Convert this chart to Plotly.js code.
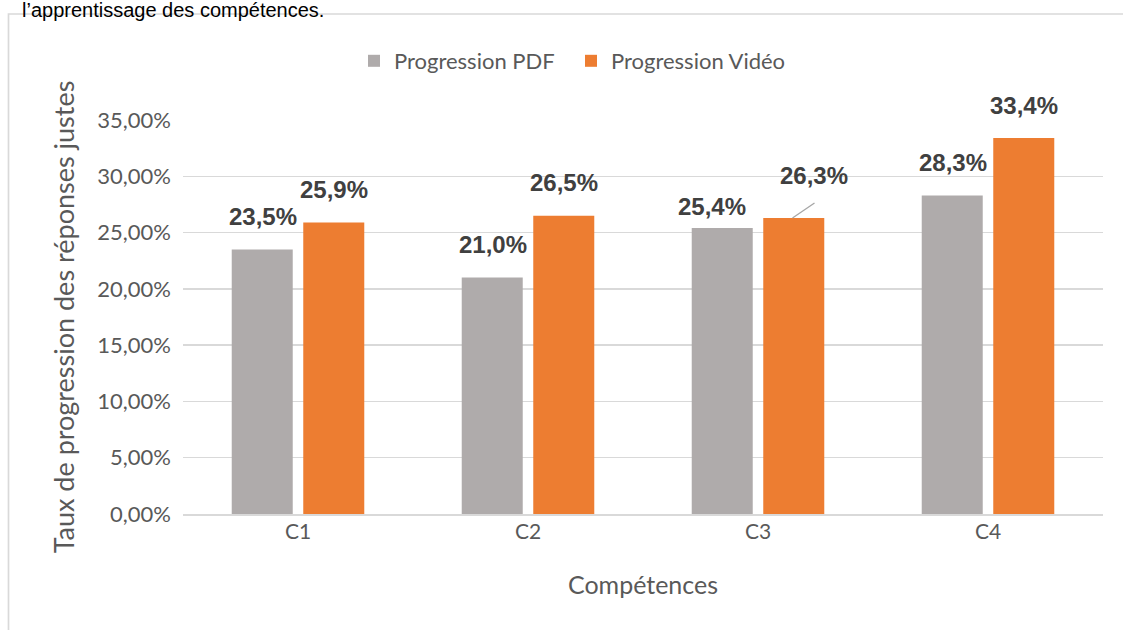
<!DOCTYPE html>
<html>
<head>
<meta charset="utf-8">
<script src="https://cdn.plot.ly/plotly-3.0.1.min.js"></script>
<style>
  html, body { margin: 0; padding: 0; background: #ffffff; }
  #chart { width: 1123px; height: 630px; }
</style>
</head>
<body>
<div id="chart"></div>
<script>
// ---- Data ----
const categories = ['C1', 'C2', 'C3', 'C4'];
const seriesNames = ['Progression PDF', 'Progression Vidéo'];
const pdfValues = [0.235, 0.210, 0.254, 0.283];
const videoValues = [0.259, 0.265, 0.263, 0.334];
const yTickValues = [0, 0.05, 0.10, 0.15, 0.20, 0.25, 0.30, 0.35];
const captionText = 'l’apprentissage des compétences.';
const xTitle = 'Compétences';
const yTitle = 'Taux de progression des réponses justes';

// ---- Styles ----
const GRAY = '#AFABAB';
const ORANGE = '#ED7D31';
const AXIS_TEXT = '#595959';
const LABEL_TEXT = '#404040';
const GRID = '#D9D9D9';

// plot box in pixels (for paper-coordinate conversions)
const L = 183, R = 20, T = 120, B = 116, W = 1123, H = 630;
const PW = W - L - R, PH = H - T - B;
const px = x => (x - L) / PW;
const py = y => (H - B - y) / PH;

function fmt(v) { return (v * 100).toFixed(1).replace('.', ',') + '%'; }

const traces = [
  { type: 'bar', name: seriesNames[0], x: categories, y: pdfValues,
    marker: { color: GRAY }, hoverinfo: 'skip' },
  { type: 'bar', name: seriesNames[1], x: categories, y: videoValues,
    marker: { color: ORANGE }, hoverinfo: 'skip' }
];

// data label placement (pixel nudges relative to each bar's top centre)
const barOffset = 35.5;
const labelNudge = [
  [[0, 0], [0, 0], [-11, 11], [0, 0]],   // PDF
  [[0, 0], [0, 0], [20, -9], [0, 0]]     // Vidéo
];
const labelFont = { family: 'Liberation Sans, Arial, sans-serif', size: 24, color: LABEL_TEXT, weight: 'bold' };
const annotations = [];
const shapes = [];
[pdfValues, videoValues].forEach((vals, s) => {
  vals.forEach((v, i) => {
    const dx = (s === 0 ? -barOffset : barOffset);
    const n = labelNudge[s][i];
    annotations.push({
      x: categories[i], y: v, xref: 'x', yref: 'y',
      xshift: dx + n[0], yshift: 33 - n[1],
      yanchor: 'middle', xanchor: 'center',
      text: fmt(v), showarrow: false, font: labelFont
    });
    if (s === 1 && i === 2) {
      // leader line from bar top to the moved label
      shapes.push({
        type: 'line', xref: 'x', yref: 'y',
        xsizemode: 'pixel', xanchor: i, x0: dx - 1, x1: dx + 21,
        ysizemode: 'pixel', yanchor: v, y0: 0, y1: 15,
        line: { color: '#A6A6A6', width: 1.3 }
      });
    }
  });
});

// chart-area border
shapes.push({
  type: 'rect', xref: 'paper', yref: 'paper', layer: 'below',
  x0: px(8.5), x1: px(1140), y0: py(645), y1: py(14),
  line: { color: GRID, width: 1.7 }, fillcolor: 'rgba(0,0,0,0)'
});

const layout = {
  width: W, height: H,
  margin: { l: L, r: R, t: T, b: B, pad: 0 },
  paper_bgcolor: '#ffffff', plot_bgcolor: '#ffffff',
  separators: ', ',
  barmode: 'group', bargap: 0.378, bargroupgap: 0.147,
  showlegend: true,
  title: {
    text: captionText, xref: 'container', yref: 'container',
    x: 22 / W, xanchor: 'left', y: 1 - 17 / H, yanchor: 'bottom',
    font: { family: 'Liberation Sans, Arial, sans-serif', size: 20, color: '#000000' }
  },
  legend: {
    orientation: 'h', x: px(354), xanchor: 'left', y: py(61), yanchor: 'middle',
    font: { family: 'Lato, sans-serif', size: 22, color: AXIS_TEXT },
    entrywidth: 172, entrywidthmode: 'pixels', traceorder: 'normal'
  },
  xaxis: {
    type: 'category', showline: true, linecolor: GRID, linewidth: 2,
    ticks: '', showgrid: false, zeroline: false,
    tickfont: { family: 'Lato, sans-serif', size: 21, color: AXIS_TEXT },
    ticklabelstandoff: -2,
    title: { text: xTitle, standoff: 34, font: { family: 'Lato, sans-serif', size: 25, color: AXIS_TEXT } },
    automargin: false, fixedrange: true
  },
  yaxis: {
    range: [0, 0.35], tickvals: yTickValues, tickformat: '.2%',
    showgrid: true, gridcolor: GRID, gridwidth: 1.5,
    zeroline: false, showline: false, ticks: '',
    ticklabelstandoff: 11,
    tickfont: { family: 'Lato, sans-serif', size: 22, color: AXIS_TEXT },
    title: { text: yTitle, standoff: 14, font: { family: 'Lato, sans-serif', size: 27, color: AXIS_TEXT } },
    automargin: false, fixedrange: true
  },
  annotations: annotations,
  shapes: shapes
};

Plotly.newPlot('chart', traces, layout, { displayModeBar: false, staticPlot: true });
</script>
</body>
</html>
